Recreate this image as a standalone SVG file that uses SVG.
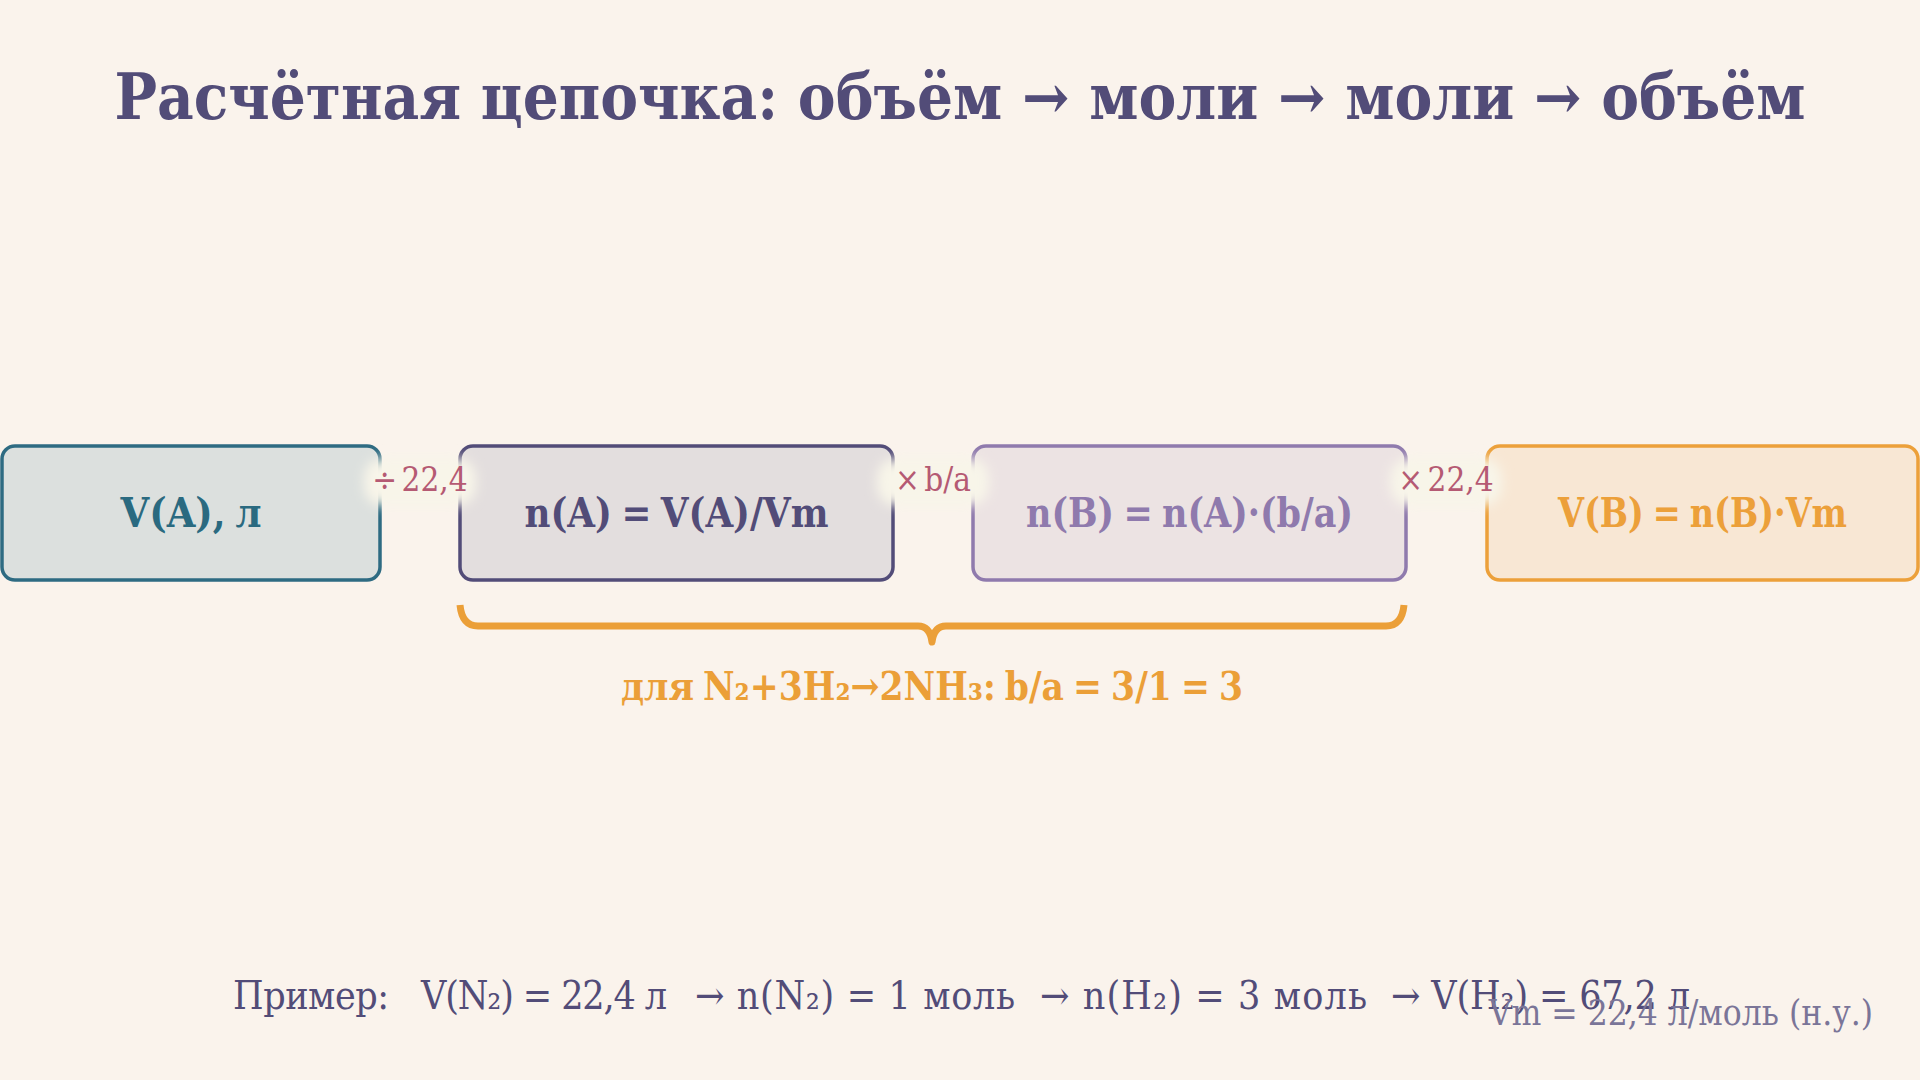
<svg xmlns="http://www.w3.org/2000/svg" width="1920" height="1080" viewBox="0 0 1920 1080">
<defs>
<style>
.t{font-family:"DejaVu Serif","Liberation Serif",serif;font-stretch:condensed}
.title{font-size:63px;font-weight:bold;fill:#524c78}
.box{stroke-width:3.5}
.bt{font-size:41px;font-weight:bold;text-anchor:middle;word-spacing:-3px}
.lbl{font-size:33px;fill:#b55a73;text-anchor:middle;word-spacing:-5px}
.halo{fill:#f8f5e9;filter:url(#blur)}
.ex{font-size:39px;fill:#524c78}
</style>
<filter id="blur" x="-30%" y="-50%" width="160%" height="200%"><feGaussianBlur stdDeviation="6"/></filter>
</defs>
<rect width="1920" height="1080" fill="#faf3ec"/>
<text class="t title" x="960" y="119" text-anchor="middle">Расчётная цепочка: объём → моли → моли → объём</text>
<g id="node-va">
<rect class="box" x="2" y="446" width="378" height="134" rx="13" fill="#dce0de" stroke="#2e6b82"/>
<text class="t bt" x="191" y="527" fill="#2a6a80">V(A), л</text>
</g>
<g id="node-na">
<rect class="box" x="460" y="446" width="433" height="134" rx="13" fill="#e3dede" stroke="#524c78"/>
<text class="t bt" x="676.5" y="527" fill="#524c78" textLength="304" lengthAdjust="spacingAndGlyphs">n(A) = V(A)/Vm</text>
</g>
<g id="node-nb">
<rect class="box" x="973" y="446" width="433" height="134" rx="13" fill="#ece3e3" stroke="#8f7aad"/>
<text class="t bt" x="1189.5" y="527" fill="#8f7aad" textLength="327" lengthAdjust="spacingAndGlyphs">n(B) = n(A)·(b/a)</text>
</g>
<g id="node-vb">
<rect class="box" x="1487" y="446" width="431" height="134" rx="13" fill="#f8e7d4" stroke="#eca03a"/>
<text class="t bt" x="1702.5" y="527" fill="#eca03a" textLength="289" lengthAdjust="spacingAndGlyphs">V(B) = n(B)·Vm</text>
</g>
<g id="connectors">
<rect class="halo" x="364" y="458" width="112" height="48" rx="20"/>
<text class="t lbl" x="420" y="491">÷ 22,4</text>
<rect class="halo" x="877" y="458" width="112" height="48" rx="20"/>
<text class="t lbl" x="933" y="491">× b/a</text>
<rect class="halo" x="1390" y="458" width="112" height="48" rx="20"/>
<text class="t lbl" x="1446" y="491">× 22,4</text>
</g>
<g id="brace">
<path d="M460,605 Q462,626 478,626 L918,626 Q930,626 932,642 Q934,626 946,626 L1386,626 Q1402,626 1404,605" fill="none" stroke="#eb9f38" stroke-width="7" stroke-linejoin="round"/>
<text class="t" x="932" y="700" text-anchor="middle" font-size="39" font-weight="bold" fill="#eb9f38" word-spacing="-3" textLength="622" lengthAdjust="spacingAndGlyphs">для N₂+3H₂→2NH₃: b/a = 3/1 = 3</text>
</g>
<g id="example">
<text class="t ex" x="233" y="1009" textLength="156">Пример:</text>
<text class="t ex" x="421" y="1009" textLength="246">V(N₂) = 22,4 л</text>
<text class="t ex" x="695" y="1009" textLength="320">→ n(N₂) = 1 моль</text>
<text class="t ex" x="1040" y="1009" textLength="327">→ n(H₂) = 3 моль</text>
<text class="t ex" x="1391" y="1009" textLength="299">→ V(H₂) = 67,2 л</text>
</g>
<text class="t" x="1873" y="1025" font-size="35" fill="#7a7598" text-anchor="end">Vm = 22,4 л/моль (н.у.)</text>
</svg>
